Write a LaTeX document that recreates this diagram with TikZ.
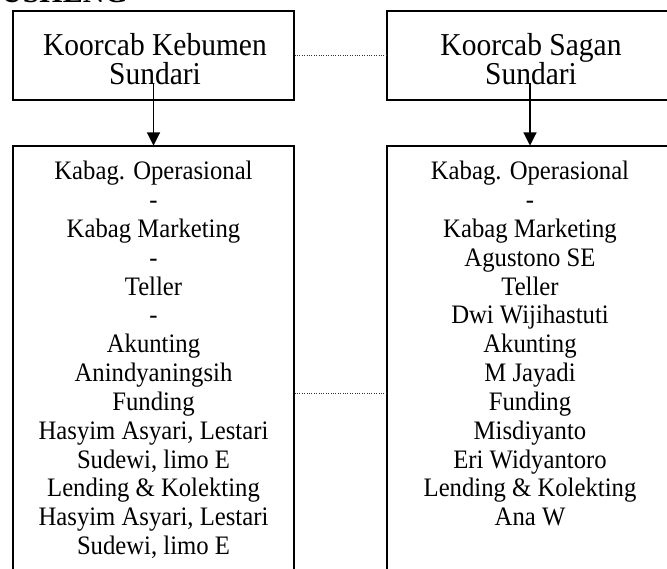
\documentclass[tikz,border=0pt]{standalone}
\usepackage{fontspec}
\setmainfont{Liberation Serif}
\usetikzlibrary{arrows.meta}

\newcommand{\tallText}[1]{\scalebox{1}[1.08]{#1}}

\begin{document}
\begin{tikzpicture}[x=1pt,y=-1pt,
  box/.style={draw=black,line width=1.3pt,inner sep=0pt},
  head/.style={font=\fontsize{29.5}{29}\selectfont,anchor=base,inner sep=0pt},
  staff/.style={font=\fontsize{24.7}{28.8}\selectfont,anchor=base,inner sep=0pt},
  link/.style={black!80,line width=0.8pt,dash pattern=on 1pt off 1.4pt},
  down/.style={line width=1.1pt,-{Triangle[width=13pt,length=13pt]}}]
\clip (0,0) rectangle (667,569);
\node[font=\fontsize{30}{30}\bfseries\selectfont,anchor=base east,inner sep=0pt] (title) at (128,2.5) {USHENG};

% koorcab boxes
\node[box,minimum width=281pt,minimum height=89pt] (kebumen) at (153.5,55.5) {};
\node[box,minimum width=286pt,minimum height=89pt] (sagan) at (530,55.5) {};
\node[head] (kebumenName) at (155,56) {\tallText{Koorcab Kebumen}};
\node[head] (kebumenHead) at (155,85) {\tallText{Sundari}};
\node[head] (saganName) at (531,56) {\tallText{Koorcab Sagan}};
\node[head] (saganHead) at (531,85) {\tallText{Sundari}};

% staff boxes
\node[box,minimum width=281pt,minimum height=450pt,anchor=north] (kebumenStaff) at (153.5,145.5) {};
\node[box,minimum width=286pt,minimum height=450pt,anchor=north] (saganStaff) at (530,145.5) {};

\coordinate (kebumenTail) at (153.5,83);
\coordinate (saganTail) at (530,83);
\draw[down] (kebumenTail) -- (kebumenStaff.north);
\draw[down] (saganTail) -- (saganStaff.north);

\coordinate (midLow) at (340,393);
\draw[link] (kebumen.east) -- (sagan.west);
\draw[link] (kebumenStaff.east |- midLow) -- (saganStaff.west |- midLow);

\foreach \job [count=\i] in {Kabag. Operasional, -, Kabag Marketing, -, Teller, -, Akunting, Anindyaningsih, Funding, {Hasyim Asyari, Lestari}, {Sudewi, limo E}, Lending \& Kolekting, {Hasyim Asyari, Lestari}, {Sudewi, limo E}}
  \node[staff] (kebumen-\i) at (153.5,151.2+28.8*\i) {\tallText{\job}};

\foreach \job [count=\i] in {Kabag. Operasional, -, Kabag Marketing, Agustono SE, Teller, Dwi Wijihastuti, Akunting, M Jayadi, Funding, Misdiyanto, Eri Widyantoro, Lending \& Kolekting, Ana W}
  \node[staff] (sagan-\i) at (530,151.2+28.8*\i) {\tallText{\job}};
\end{tikzpicture}
\end{document}
